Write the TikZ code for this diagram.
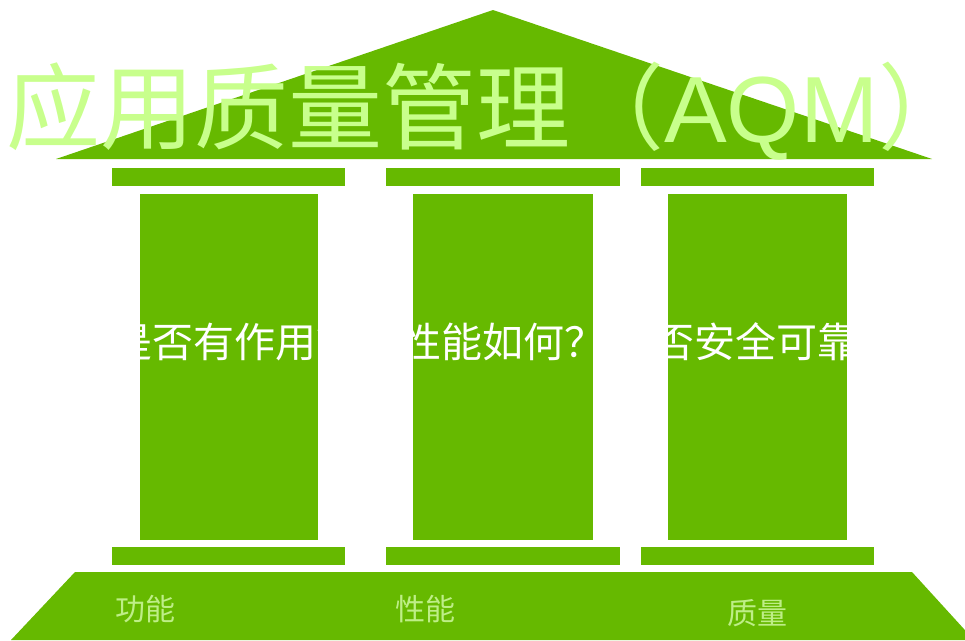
\documentclass[tikz,border=0pt]{standalone}
\usepackage{fontspec}
\setmainfont{Noto Sans CJK SC}
\newfontfamily\latinf{Liberation Sans}
\definecolor{pillar}{RGB}{102,185,0}
\definecolor{titlegreen}{RGB}{200,255,140}
\definecolor{labelgreen}{RGB}{190,238,135}
\tikzset{
  pillarbox/.style={fill=pillar, draw=none, inner sep=0pt, outer sep=0pt, anchor=north west},
  coltext/.style={text=white, inner sep=0pt, anchor=base, font=\fontsize{41}{41}\selectfont},
  basetext/.style={text=labelgreen, inner sep=0pt, anchor=base, font=\fontsize{30}{30}\selectfont}
}
\begin{document}
\begin{tikzpicture}[x=1pt,y=-1pt]
\useasboundingbox (0,0) rectangle (965,640);
% roof
\fill[pillar] (493,10) -- (932,159) -- (56,159) -- cycle;
\node[anchor=base west, text=titlegreen, inner sep=0pt, font=\fontsize{94}{94}\selectfont] (title) at (6,142) {应用质量管理（{\latinf AQM}\makebox[0.4em][l]{）}};
% capitals
\node[pillarbox, minimum width=233pt, minimum height=18pt] (cap1) at (112,168) {};
\node[pillarbox, minimum width=234pt, minimum height=18pt] (cap2) at (386,168) {};
\node[pillarbox, minimum width=233pt, minimum height=18pt] (cap3) at (641,168) {};
% columns
\node[pillarbox, minimum width=178pt, minimum height=346pt] (c1) at (140,194) {};
\node[pillarbox, minimum width=180pt, minimum height=346pt] (c2) at (413,194) {};
\node[pillarbox, minimum width=179pt, minimum height=346pt] (c3) at (668,194) {};
% column texts
\begin{scope}
\clip (c1.north west) rectangle (c1.south east);
\node[coltext] (t1) at (234,357) {是否有作用？};
\end{scope}
\begin{scope}
\clip (c2.north west) rectangle (c2.south east);
\node[coltext] (t2) at (503,357) {性能如何？};
\end{scope}
\begin{scope}
\clip (c3.north west) rectangle (c3.south east);
\node[coltext] (t3) at (756,357) {是否安全可靠？};
\end{scope}
% bases of columns
\node[pillarbox, minimum width=233pt, minimum height=18pt] (b1) at (112,547) {};
\node[pillarbox, minimum width=234pt, minimum height=18pt] (b2) at (386,547) {};
\node[pillarbox, minimum width=233pt, minimum height=18pt] (b3) at (641,547) {};
% foundation
\fill[pillar] (75,572) -- (912,572) -- (974,640) -- (11,640) -- cycle;
\node[basetext] (l1) at (145,620) {功能};
\node[basetext] (l2) at (425,620) {性能};
\node[basetext] (l3) at (757,624) {质量};
\end{tikzpicture}
\end{document}
